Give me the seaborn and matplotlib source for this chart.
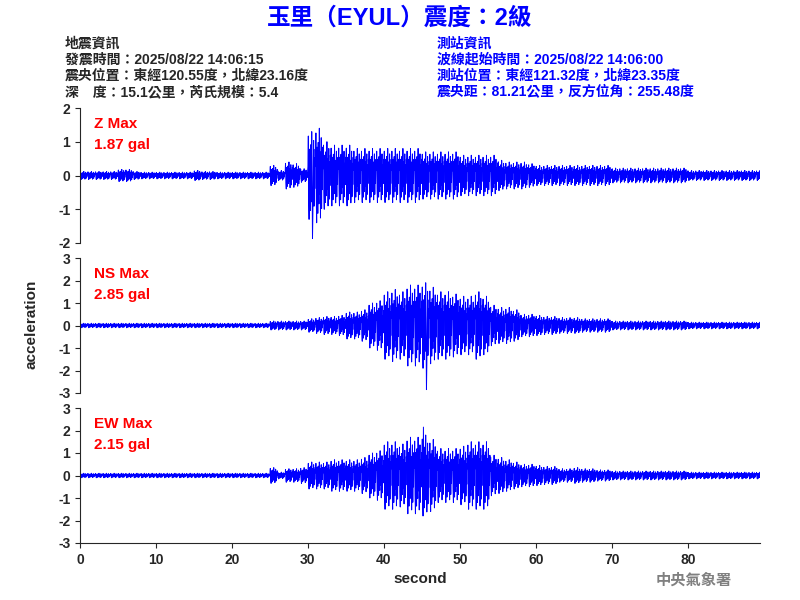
import numpy as np
import pandas as pd
import seaborn as sns
import matplotlib.pyplot as plt

sns.set_style("ticks")
plt.rcParams['font.family'] = ['Liberation Sans', 'Noto Sans CJK TC', 'DejaVu Sans']
plt.rcParams['axes.unicode_minus'] = False

# envelope (gal) per second, 0..89 s
z_env = [0.12]*5 + [0.18, 0.18, 0.12] + [0.1]*7 + [0.15, 0.12, 0.12] + [0.1]*7 + [0.3, 0.15, 0.4, 0.35, 0.2] + \
        [1.3, 1.4, 1.0, 0.9, 0.9, 0.9, 0.8, 0.8, 0.8, 0.8, 0.8, 0.8, 0.8, 0.8, 0.8,
         0.7, 0.7, 0.7, 0.7, 0.7, 0.6, 0.6, 0.6, 0.6, 0.6, 0.45, 0.4, 0.4, 0.4, 0.35] + \
        [0.3]*10 + [0.22]*10 + [0.15]*10
ns_env = [0.1]*25 + [0.2]*5 + [0.3, 0.35, 0.4, 0.4, 0.45, 0.6, 0.6, 0.7, 1.0, 1.1,
                               1.5, 1.6, 1.5, 1.8, 1.8, 1.9, 1.7, 1.5, 1.5, 1.4,
                               1.3, 1.3, 1.5, 1.3, 0.9, 0.8, 0.8, 0.7, 0.5, 0.5,
                               0.45, 0.4, 0.4, 0.35, 0.35, 0.35, 0.3, 0.3, 0.3, 0.3] + [0.2]*10 + [0.15]*10
ew_env = [0.1]*25 + [0.35, 0.15, 0.3, 0.3, 0.35] + [0.6, 0.6, 0.6, 0.7, 0.7, 0.7, 0.7, 0.8, 1.0, 1.1,
                                                    1.5, 1.5, 1.4, 1.7, 1.7, 1.8, 1.6, 1.2, 1.2, 1.2,
                                                    1.3, 1.5, 1.5, 1.5, 0.9, 0.8, 0.7, 0.6, 0.5, 0.5,
                                                    0.45, 0.4, 0.4, 0.3, 0.3, 0.35, 0.3, 0.3, 0.25, 0.25] + [0.2]*10 + [0.15]*10
# shape of oscillation inside each second (20 samples)
wiggle = [0.2, 0.9, -0.5, -1.0, 0.6, 0.3, -0.8, 0.7, -0.2, -0.6,
          1.0, -0.4, 0.5, -0.9, 0.1, 0.8, -0.7, 0.4, -0.3, 0.6]
peaks = {'Z': (30.6, -1.87), 'NS': (45.6, -2.85), 'EW': (45.2, 2.15)}

def trace(env, name):
    t = np.arange(0, 90, 0.05)
    y = np.array([e * w for e in env for w in wiggle])
    i = int(peaks[name][0] / 0.05)
    y[i] = peaks[name][1]
    return pd.DataFrame({'t': t, 'a': y})

fig = plt.figure(figsize=(8, 6), dpi=100)
specs = [('Z', z_env, (-2, 2), [-2, -1, 0, 1, 2], 0.595, '1.87'),
         ('NS', ns_env, (-3, 3), [-3, -2, -1, 0, 1, 2, 3], 0.345, '2.85'),
         ('EW', ew_env, (-3, 3), [-3, -2, -1, 0, 1, 2, 3], 0.095, '2.15')]
for k, (name, env, yl, yt, bot, mx) in enumerate(specs):
    ax = fig.add_axes([0.1, bot, 0.85, 0.225])
    sns.lineplot(data=trace(env, name), x='t', y='a', color='blue', lw=0.7, ax=ax)
    ax.set_xlim(0, 89.5)
    ax.set_ylim(*yl)
    ax.set_yticks(yt)
    ax.set_ylabel('')
    ax.set_xlabel('')
    for s in ['top', 'right']:
        ax.spines[s].set_visible(False)
    ax.tick_params(labelsize=10, direction='out')
    for lab in ax.get_yticklabels():
        lab.set_fontweight('bold')
    ax.text(0.02, 0.93, name + ' Max', color='red', fontsize=11, fontweight='bold',
            transform=ax.transAxes, va='top')
    ax.text(0.02, 0.78, mx + ' gal', color='red', fontsize=11, fontweight='bold',
            transform=ax.transAxes, va='top')
    if k < 2:
        ax.spines['bottom'].set_visible(False)
        ax.set_xticks([])
    else:
        ax.set_xticks([0, 10, 20, 30, 40, 50, 60, 70, 80])
        for lab in ax.get_xticklabels():
            lab.set_fontweight('bold')
        ax.set_xlabel('second', fontsize=11, fontweight='bold')

fig.text(0.04, 0.46, 'acceleration', rotation=90, fontsize=11, fontweight='bold', ha='center', va='center')
fig.text(0.5, 0.97, '玉里（EYUL）震度：2級', color='blue', fontsize=17, fontweight='bold', ha='center', va='center')
left = ['地震資訊', '發震時間：2025/08/22 14:06:15', '震央位置：東經120.55度，北緯23.16度', '深　度：15.1公里，芮氏規模：5.4']
right = ['測站資訊', '波線起始時間：2025/08/22 14:06:00', '測站位置：東經121.32度，北緯23.35度', '震央距：81.21公里，反方位角：255.48度']
for i in range(4):
    fig.text(0.081, 0.928 - i * 0.027, left[i], fontsize=10, fontweight='bold', va='center')
    fig.text(0.546, 0.928 - i * 0.027, right[i], fontsize=10, fontweight='bold', color='blue', va='center')
fig.text(0.82, 0.032, '中央氣象署', fontsize=11, fontweight='bold', color='gray', va='center')
fig.savefig('out.png', dpi=100)
